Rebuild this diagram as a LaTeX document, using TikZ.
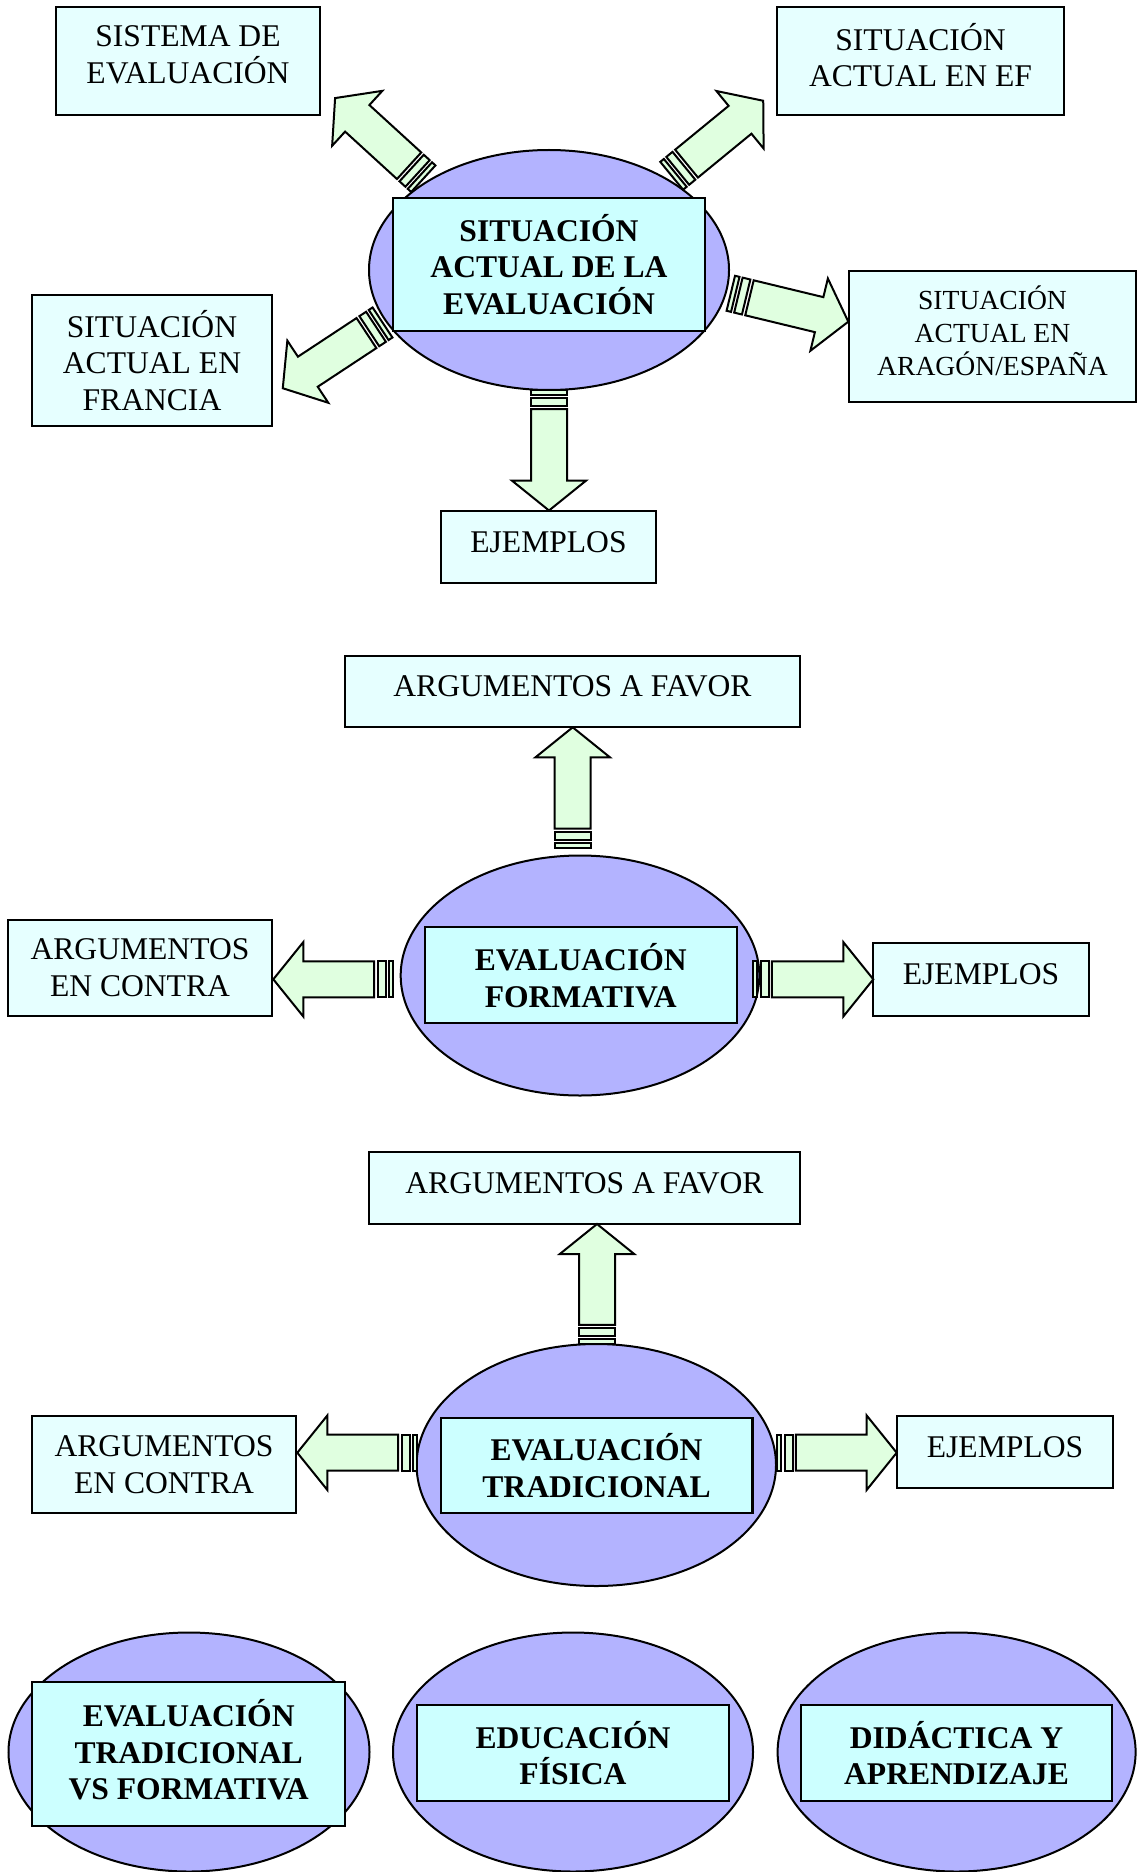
\documentclass[tikz,border=0pt]{standalone}
\usepackage{fontspec}
\setmainfont{Liberation Serif}
\usetikzlibrary{shapes.geometric,calc}
\definecolor{ovalc}{RGB}{179,179,255}
\definecolor{innerc}{RGB}{204,255,255}
\definecolor{outerc}{RGB}{230,255,255}
\definecolor{arrc}{RGB}{224,255,224}
\newcommand\fsreg{\fontsize{15.8}{18.4}\selectfont}
\newcommand\fssmall{\fontsize{13.8}{16.5}\selectfont}
\newcommand\blockarr[2]{%
  \path let \p1=(#1), \p2=(#2), \n1={atan2(\y2-\y1,\x2-\x1)}, \n2={veclen(\x2-\x1,\y2-\y1)} in \pgfextra{\xdef\baang{\n1}\xdef\balen{\n2}};
  \begin{scope}[shift={(#1)}, rotate=\baang, x=1pt, y=1pt]
    \draw[arrstyle] (0,-9) rectangle (2.3,9);
    \draw[arrstyle] (3.9,-9) rectangle (7.9,9);
    \draw[arrstyle] (9.6,-9) -- (\balen-15,-9) -- (\balen-15,-18.6) -- (\balen,0) -- (\balen-15,18.6) -- (\balen-15,9) -- (9.6,9) -- cycle;
  \end{scope}}
\tikzset{
  arrstyle/.style={draw=black, fill=arrc, line width=1pt, line join=miter},
  outerbox/.style={draw=black, fill=outerc, line width=1pt, inner sep=0pt},
  boxtext/.style={align=center, inner sep=0pt, font=\fsreg},
  innerbox/.style={draw=black, fill=innerc, line width=1.1pt, align=center, inner sep=0pt, font=\fsreg\bfseries},
  oval/.style={draw=black, fill=ovalc, ellipse, line width=1pt, inner sep=0pt},
}
\begin{document}
\begin{tikzpicture}[x=0.5pt, y=-0.5pt]
\useasboundingbox (0,0) rectangle (1137,1872);
% ---------- ovals ----------
\node[oval, minimum width=180pt, minimum height=120pt] (e1) at (549,270) {};
\node[oval, minimum width=179.3pt, minimum height=120pt] (e2) at (580,975.5) {};
\node[oval, minimum width=179.7pt, minimum height=121pt] (e3) at (596.3,1465) {};
\node[oval, minimum width=180.5pt, minimum height=119.5pt] (e4) at (189,1752) {};
\node[oval, minimum width=180pt, minimum height=119.5pt] (e5) at (573,1752) {};
\node[oval, minimum width=179pt, minimum height=119.5pt] (e6) at (956.6,1752) {};
% ---------- inner boxes ----------
\node[innerbox, minimum width=156.3pt, minimum height=66.2pt] (c1) at (549,264.5) {SITUACIÓN\\ACTUAL DE LA\\EVALUACIÓN};
\node[innerbox, minimum width=155.9pt, minimum height=48pt] (c2) at (580.8,975.3) {EVALUACIÓN\\FORMATIVA};
\node[innerbox, minimum width=155.9pt, minimum height=47.8pt] (c3) at (596.5,1465.4) {EVALUACIÓN\\TRADICIONAL};
\node[innerbox, minimum width=156.4pt, minimum height=72.2pt] (c4) at (188.7,1753.8) {};
\node[boxtext, font=\fsreg\bfseries] (c4t) at ($(c4)+(0,-4)$) {EVALUACIÓN\\TRADICIONAL\\VS FORMATIVA};
\node[innerbox, minimum width=156pt, minimum height=48pt] (c5) at (573,1753) {EDUCACIÓN\\FÍSICA};
\node[innerbox, minimum width=155.5pt, minimum height=48pt] (c6) at (956.5,1753) {DIDÁCTICA Y\\APRENDIZAJE};
% ---------- outer boxes ----------
\node[outerbox, minimum width=132pt, minimum height=54pt] (b1) at (188,61) {};
\node[boxtext] (b1t) at ($(b1)+(0,-6)$) {SISTEMA DE\\EVALUACIÓN};
\node[outerbox, minimum width=143.5pt, minimum height=54pt] (b2) at (920.5,61) {};
\node[boxtext] (b2t) at ($(b2)+(0,-6)$) {SITUACIÓN\\ACTUAL EN EF};
\node[outerbox, minimum width=120pt, minimum height=65.5pt] (b3) at (152,360.5) {};
\node[boxtext] (b3t) at (b3) {SITUACIÓN\\ACTUAL EN\\FRANCIA};
\node[outerbox, minimum width=143.5pt, minimum height=65.5pt] (b4) at (992.5,336.5) {};
\node[boxtext, font=\fssmall] (b4t) at ($(b4)+(0,-6)$) {SITUACIÓN\\ACTUAL EN\\ARAGÓN/ESPAÑA};
\node[outerbox, minimum width=107.5pt, minimum height=36pt] (b5) at (548.5,547) {};
\node[boxtext] (b5t) at ($(b5)+(0,-5)$) {EJEMPLOS};
\node[outerbox, minimum width=227.5pt, minimum height=35.5pt] (b6) at (572.5,691.5) {};
\node[boxtext] (b6t) at ($(b6)+(0,-5)$) {ARGUMENTOS A FAVOR};
\node[outerbox, minimum width=132pt, minimum height=48pt] (b7) at (140,968) {};
\node[boxtext] (b7t) at (b7) {ARGUMENTOS\\EN CONTRA};
\node[outerbox, minimum width=108pt, minimum height=36.4pt] (b8) at (981,979.7) {};
\node[boxtext] (b8t) at ($(b8)+(0,-6)$) {EJEMPLOS};
\node[outerbox, minimum width=215.5pt, minimum height=36pt] (b9) at (584.5,1188) {};
\node[boxtext] (b9t) at ($(b9)+(0,-4.5)$) {ARGUMENTOS A FAVOR};
\node[outerbox, minimum width=132pt, minimum height=48.5pt] (b10) at (164,1464.5) {};
\node[boxtext] (b10t) at (b10) {ARGUMENTOS\\EN CONTRA};
\node[outerbox, minimum width=108pt, minimum height=36pt] (b11) at (1005,1452.3) {};
\node[boxtext] (b11t) at ($(b11)+(0,-5)$) {EJEMPLOS};
% ---------- arrows ----------
\coordinate (a1t) at (423.3,178.7);  \coordinate (a1h) at (335,98);
\coordinate (a2t) at (671.7,175.8);  \coordinate (a2h) at (763.3,100.7);
\coordinate (a3t) at (382.5,322.5);  \coordinate (a3h) at (282.7,388.3);
\coordinate (a4t) at (730.8,293.3);  \coordinate (a4h) at (848.3,321.7);
\coordinate (a5t) at (549,390);      \coordinate (a5h) at (549,510.5);
\coordinate (a6t) at (572.7,847.7);  \coordinate (a6h) at (572.7,727.3);
\coordinate (a7t) at (393.3,979.3);  \coordinate (a7h) at (273.3,979.3);
\coordinate (a8t) at (752.7,979.3);  \coordinate (a8h) at (873.3,979.3);
\coordinate (a9t) at (597,1344);     \coordinate (a9h) at (597,1224);
\coordinate (a10t) at (417.3,1452.7); \coordinate (a10h) at (297.3,1452.7);
\coordinate (a11t) at (776.7,1452.7); \coordinate (a11h) at (896.7,1452.7);
\blockarr{a1t}{a1h}
\blockarr{a2t}{a2h}
\blockarr{a3t}{a3h}
\blockarr{a4t}{a4h}
\blockarr{a5t}{a5h}
\blockarr{a6t}{a6h}
\blockarr{a7t}{a7h}
\blockarr{a8t}{a8h}
\blockarr{a9t}{a9h}
\blockarr{a10t}{a10h}
\blockarr{a11t}{a11h}
\end{tikzpicture}
\end{document}
